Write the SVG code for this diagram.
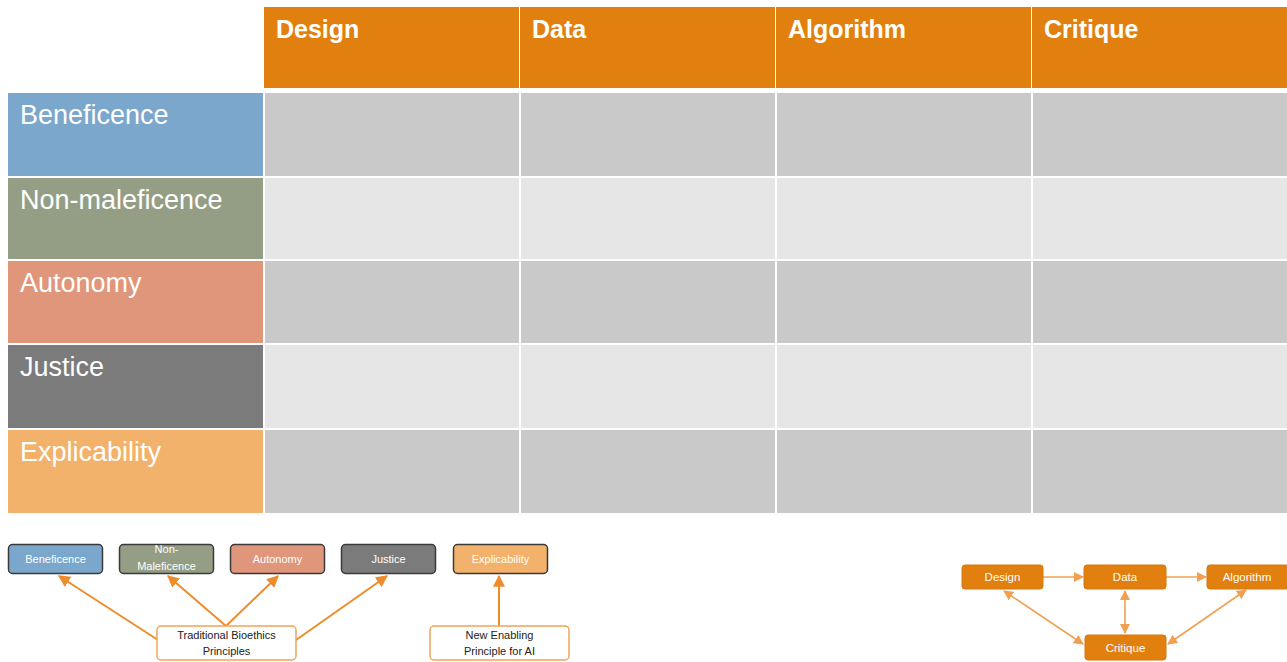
<svg xmlns="http://www.w3.org/2000/svg" width="1287" height="662" viewBox="0 0 1287 662">
  <style>
    .hdr { fill: #e2800f; }
    .hdr-t { font-family: "Liberation Sans", Arial, sans-serif; font-weight: bold; font-size: 25px; fill: #ffffff; }
    .row-t { font-family: "Liberation Sans", Arial, sans-serif; font-size: 27px; fill: #ffffff; }
    .cell-d { fill: #c9c9c9; }
    .cell-l { fill: #e6e6e6; }
    .chip { stroke: #3a3a3a; stroke-width: 1.5; }
    .chip-t { font-family: "Liberation Sans", Arial, sans-serif; font-size: 11px; fill: #ffffff; text-anchor: middle; }
    .note { fill: #ffffff; stroke: #f0a45a; stroke-width: 1.5; }
    .note-t { font-family: "Liberation Sans", Arial, sans-serif; font-size: 11px; fill: #222222; text-anchor: middle; }
    .flow { fill: #e2800f; stroke: #d6760f; stroke-width: 1; }
    .flow-t { font-family: "Liberation Sans", Arial, sans-serif; font-size: 11.5px; fill: #ffffff; text-anchor: middle; }
    .link { stroke: #ee8c2a; stroke-width: 2; fill: none; }
    .link2 { stroke: #f0a050; stroke-width: 1.6; fill: none; }
  </style>
  <defs>
    <marker id="ah" viewBox="0 0 10 10" refX="9" refY="5" markerWidth="12" markerHeight="12" markerUnits="userSpaceOnUse" orient="auto-start-reverse">
      <path d="M0,0 L10,5 L0,10 z" fill="#ee8c2a"/>
    </marker>
    <marker id="ah2" viewBox="0 0 10 10" refX="9" refY="5" markerWidth="10" markerHeight="10" markerUnits="userSpaceOnUse" orient="auto-start-reverse">
      <path d="M0,0 L10,5 L0,10 z" fill="#f0a050"/>
    </marker>
  </defs>

  <rect width="1287" height="662" fill="#ffffff"/>

  <!-- column headers -->
  <g id="header">
    <rect class="hdr" x="264" y="7" width="255" height="81"/>
    <rect class="hdr" x="520" y="7" width="255" height="81"/>
    <rect class="hdr" x="776" y="7" width="255" height="81"/>
    <rect class="hdr" x="1032" y="7" width="255" height="81"/>
    <text class="hdr-t" x="276" y="38">Design</text>
    <text class="hdr-t" x="532" y="38">Data</text>
    <text class="hdr-t" x="788" y="38">Algorithm</text>
    <text class="hdr-t" x="1044" y="38">Critique</text>
  </g>

  <!-- principle rows -->
  <g id="row-beneficence">
    <rect x="8" y="93" width="255" height="83" fill="#7ba7cc"/>
    <rect class="cell-d" x="265" y="93" width="254" height="83"/>
    <rect class="cell-d" x="521" y="93" width="254" height="83"/>
    <rect class="cell-d" x="777" y="93" width="254" height="83"/>
    <rect class="cell-d" x="1033" y="93" width="254" height="83"/>
    <text class="row-t" x="20" y="124">Beneficence</text>
  </g>
  <g id="row-nonmaleficence">
    <rect x="8" y="178" width="255" height="81" fill="#949e84"/>
    <rect class="cell-l" x="265" y="178" width="254" height="81"/>
    <rect class="cell-l" x="521" y="178" width="254" height="81"/>
    <rect class="cell-l" x="777" y="178" width="254" height="81"/>
    <rect class="cell-l" x="1033" y="178" width="254" height="81"/>
    <text class="row-t" x="20" y="209">Non-maleficence</text>
  </g>
  <g id="row-autonomy">
    <rect x="8" y="261" width="255" height="82" fill="#e0967a"/>
    <rect class="cell-d" x="265" y="261" width="254" height="82"/>
    <rect class="cell-d" x="521" y="261" width="254" height="82"/>
    <rect class="cell-d" x="777" y="261" width="254" height="82"/>
    <rect class="cell-d" x="1033" y="261" width="254" height="82"/>
    <text class="row-t" x="20" y="292">Autonomy</text>
  </g>
  <g id="row-justice">
    <rect x="8" y="345" width="255" height="83" fill="#7b7b7b"/>
    <rect class="cell-l" x="265" y="345" width="254" height="83"/>
    <rect class="cell-l" x="521" y="345" width="254" height="83"/>
    <rect class="cell-l" x="777" y="345" width="254" height="83"/>
    <rect class="cell-l" x="1033" y="345" width="254" height="83"/>
    <text class="row-t" x="20" y="376">Justice</text>
  </g>
  <g id="row-explicability">
    <rect x="8" y="430" width="255" height="83" fill="#f3b26b"/>
    <rect class="cell-d" x="265" y="430" width="254" height="83"/>
    <rect class="cell-d" x="521" y="430" width="254" height="83"/>
    <rect class="cell-d" x="777" y="430" width="254" height="83"/>
    <rect class="cell-d" x="1033" y="430" width="254" height="83"/>
    <text class="row-t" x="20" y="461">Explicability</text>
  </g>

  <!-- connectors -->
  <g id="connectors">
    <line class="link" x1="158" y1="640" x2="59" y2="576" marker-end="url(#ah)"/>
    <line class="link" x1="226" y1="626" x2="168" y2="576" marker-end="url(#ah)"/>
    <line class="link" x1="226" y1="626" x2="278" y2="576" marker-end="url(#ah)"/>
    <line class="link" x1="296" y1="640" x2="387" y2="576" marker-end="url(#ah)"/>
    <line class="link" x1="499" y1="626" x2="499" y2="576" marker-end="url(#ah)"/>

    <line class="link2" x1="1043" y1="577" x2="1083" y2="577" marker-end="url(#ah2)"/>
    <line class="link2" x1="1166" y1="577" x2="1206" y2="577" marker-end="url(#ah2)"/>
    <line class="link2" x1="1125" y1="591" x2="1125" y2="633" marker-start="url(#ah2)" marker-end="url(#ah2)"/>
    <line class="link2" x1="1004" y1="591" x2="1083" y2="644" marker-start="url(#ah2)" marker-end="url(#ah2)"/>
    <line class="link2" x1="1246" y1="590" x2="1168" y2="644" marker-start="url(#ah2)" marker-end="url(#ah2)"/>
  </g>

  <!-- principle chips -->
  <g id="chip-beneficence">
    <rect class="chip" x="8.5" y="544.5" width="94" height="29" rx="4" fill="#7ba7cc"/>
    <text class="chip-t" x="55.5" y="563">Beneficence</text>
  </g>
  <g id="chip-nonmaleficence">
    <rect class="chip" x="119.5" y="544.5" width="94" height="29" rx="4" fill="#949e84"/>
    <text class="chip-t" x="166.5" y="553">Non-</text>
    <text class="chip-t" x="166.5" y="570">Maleficence</text>
  </g>
  <g id="chip-autonomy">
    <rect class="chip" x="230.5" y="544.5" width="94" height="29" rx="4" fill="#e0967a"/>
    <text class="chip-t" x="277.5" y="563">Autonomy</text>
  </g>
  <g id="chip-justice">
    <rect class="chip" x="341.5" y="544.5" width="94" height="29" rx="4" fill="#7b7b7b"/>
    <text class="chip-t" x="388.5" y="563">Justice</text>
  </g>
  <g id="chip-explicability">
    <rect class="chip" x="453.5" y="544.5" width="94" height="29" rx="4" fill="#f3b26b"/>
    <text class="chip-t" x="500.5" y="563">Explicability</text>
  </g>

  <g id="note-traditional">
    <rect class="note" x="157" y="626" width="139" height="34" rx="4"/>
    <text class="note-t" x="226.5" y="639">Traditional Bioethics</text>
    <text class="note-t" x="226.5" y="655">Principles</text>
  </g>
  <g id="note-enabling">
    <rect class="note" x="430" y="626" width="139" height="34" rx="4"/>
    <text class="note-t" x="499.5" y="639">New Enabling</text>
    <text class="note-t" x="499.5" y="655">Principle for AI</text>
  </g>

  <!-- pipeline -->
  <g id="flow-design">
    <rect class="flow" x="962" y="565" width="81" height="24" rx="3"/>
    <text class="flow-t" x="1002.5" y="581">Design</text>
  </g>
  <g id="flow-data">
    <rect class="flow" x="1084" y="565" width="82" height="24" rx="3"/>
    <text class="flow-t" x="1125" y="581">Data</text>
  </g>
  <g id="flow-algorithm">
    <rect class="flow" x="1207" y="565" width="82" height="24" rx="3"/>
    <text class="flow-t" x="1247" y="581">Algorithm</text>
  </g>
  <g id="flow-critique">
    <rect class="flow" x="1085" y="635" width="81" height="25" rx="3"/>
    <text class="flow-t" x="1125.5" y="651.5">Critique</text>
  </g>
</svg>
